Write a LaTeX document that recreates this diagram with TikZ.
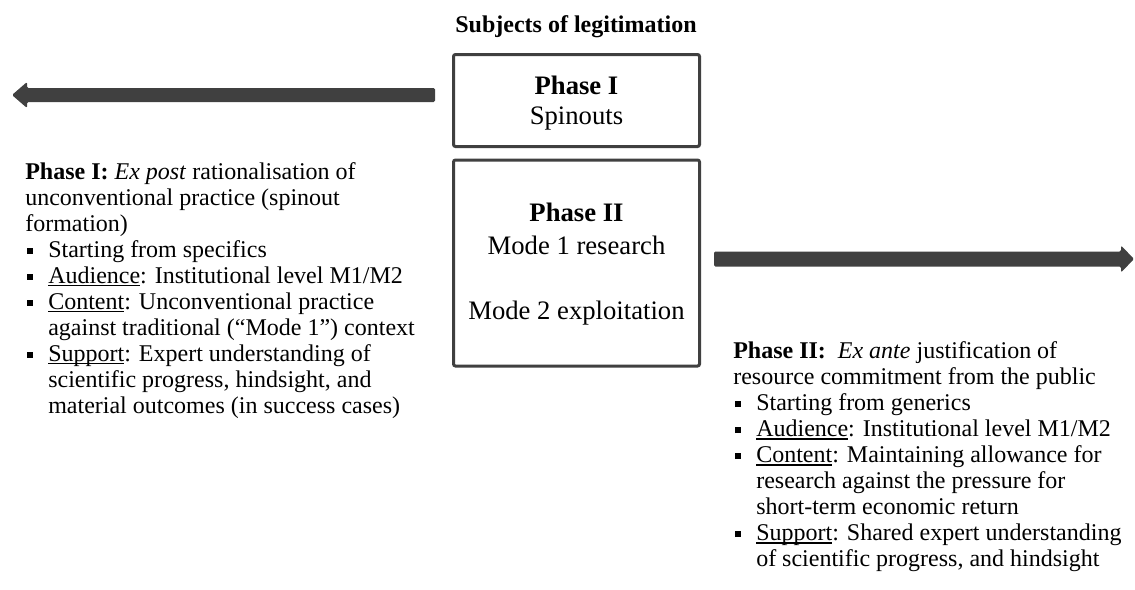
\documentclass[tikz,border=0pt]{standalone}
\usepackage{fontspec}
\setmainfont{Liberation Serif}

\definecolor{boxgray}{HTML}{404040}
% one drawing unit = one pixel of the slide
\newcommand\pxu{0.75pt}
% square bullet and the matching hanging indent
\newcommand\itm{\makebox[17.25pt][l]{\hspace*{1.5pt}\rule[2.6pt]{4.6pt}{4.6pt}}}
\newcommand\cont{\hspace*{17.25pt}}
% firm underline close to the baseline
\newcommand\uln[1]{\leavevmode\setbox0\hbox{#1}\rlap{\rule[-2.4pt]{\wd0}{1.1pt}}\box0}

\tikzset{
  phasebox/.style={draw=boxgray, line width=2.25pt, rounded corners=1.5pt,
    minimum width=246*\pxu, inner sep=0pt},
  boxtext/.style={inner sep=0pt, align=center},
  blockarrow/.style={fill=boxgray, rounded corners=1pt},
  note/.style={anchor=north west, inner sep=0pt, align=left,
    font=\fontsize{18}{19.5}\selectfont},
  heading/.style={inner sep=0pt, font=\fontsize{18}{19.5}\selectfont\bfseries}
}

\begin{document}
\begin{tikzpicture}[x=0.75pt,y=-0.75pt]
\useasboundingbox (0,0) rectangle (1135,589);
\fill[white] (0,0) rectangle (1135,589);

% heading and the two subject boxes
\node[heading] (title) at (576,27) {Subjects of legitimation};
\node[phasebox, minimum height=92*\pxu] (boxA) at (576.5,100.5) {};
\node[phasebox, minimum height=206*\pxu] (boxB) at (576.5,263) {};
\node[boxtext, font=\fontsize{20}{22.5}\selectfont] (boxAtext) at (576.5,103.5)
  {\textbf{Phase I}\\Spinouts};
\node[boxtext, font=\fontsize{20}{24.5}\selectfont] (boxBtext) at (576.5,264.5)
  {\textbf{Phase II}\\Mode 1 research\\[24.5pt]Mode 2 exploitation};

% block arrows: backwards (Phase I) and forwards (Phase II)
\coordinate (backTop) at (435,88);
\coordinate (backBot) at (435,102);
\coordinate (fwdTop) at (714,251.5);
\coordinate (fwdBot) at (714,266.5);
\fill[blockarrow] (backTop) -- (27,88) -- (27,82) -- (12,95)
  -- (27,108) -- (27,102) -- (backBot) -- cycle;
\fill[blockarrow] (fwdTop) -- (1121,251.5) -- (1121,245.5)
  -- (1134,259) -- (1121,272.5) -- (1121,266.5) -- (fwdBot) -- cycle;

% Phase I legitimation
\node[note] (leftnote) at (25,162) {%
\textbf{Phase I:} \textit{Ex post} rationalisation of\\
unconventional practice (spinout\\
formation)\\
\itm Starting from specifics\\
\itm \uln{Audience}: Institutional level M1/M2\\
\itm \uln{Content}: Unconventional practice\\
\cont against traditional (“Mode 1”) context\\
\itm \uln{Support}: Expert understanding of\\
\cont scientific progress, hindsight, and\\
\cont material outcomes (in success cases)};

% Phase II legitimation
\node[note] (rightnote) at (733,341.5) {%
\textbf{Phase II:}\ \ \textit{Ex ante} justification of\\
resource commitment from the public\\
\itm Starting from generics\\
\itm \uln{Audience}: Institutional level M1/M2\\
\itm \uln{Content}: Maintaining allowance for\\
\cont research against the pressure for\\
\cont short-term economic return\\
\itm \uln{Support}: Shared expert understanding\\
\cont of scientific progress, and hindsight};
\end{tikzpicture}
\end{document}
